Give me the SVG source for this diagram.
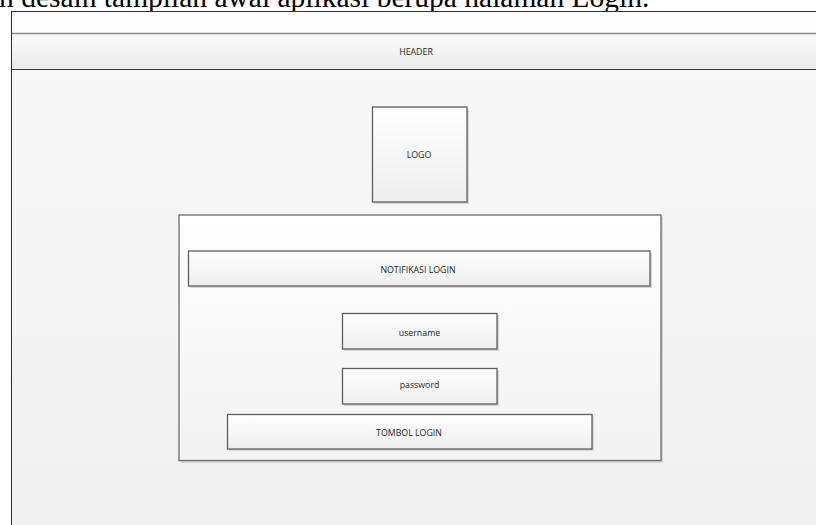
<svg xmlns="http://www.w3.org/2000/svg" width="816" height="525" viewBox="0 0 816 525">
<defs>
<linearGradient id="boxg" x1="0" y1="0" x2="0" y2="1">
<stop offset="0" stop-color="#ffffff"/>
<stop offset="1" stop-color="#eeeeee"/>
</linearGradient>
<linearGradient id="hdrg" x1="0" y1="0" x2="0" y2="1">
<stop offset="0" stop-color="#fbfbfb"/>
<stop offset="1" stop-color="#ebebeb"/>
</linearGradient>
<linearGradient id="bgg" x1="0" y1="0" x2="0" y2="1">
<stop offset="0" stop-color="#f9f9f9"/>
<stop offset="1" stop-color="#f0f0f0"/>
</linearGradient>
<linearGradient id="panelg" x1="0" y1="0" x2="0" y2="1">
<stop offset="0" stop-color="#ffffff"/>
<stop offset="1" stop-color="#f2f2f2"/>
</linearGradient>
</defs>
<style>
.box{fill:url(#boxg);stroke:#5e5e5e;stroke-width:1.3}
.shadow{fill:#d6d6d6}
.lbl{font-family:"Open Sans","DejaVu Sans",sans-serif;font-size:8.8px;fill:#262626;text-anchor:middle}
.cap{font-family:"Liberation Serif","Times New Roman",serif;font-size:29.5px;fill:#000}
</style>
<rect x="0" y="0" width="816" height="525" fill="#ffffff"/>
<text class="cap" x="-1" y="7">n desain tampilan awal aplikasi berupa halaman Login.</text>
<g id="frame">
<rect x="11" y="11" width="806" height="515" fill="url(#bgg)"/>
<rect x="11" y="11" width="806" height="22" fill="#fdfdfd"/>
<line x1="11" y1="11.5" x2="816" y2="11.5" stroke="#2e2e2e" stroke-width="1"/>
<line x1="11.5" y1="11" x2="11.5" y2="525" stroke="#2e2e2e" stroke-width="1"/>
</g>
<g id="header">
<rect x="12" y="33" width="805" height="36" fill="url(#hdrg)"/>
<line x1="12" y1="33.5" x2="816" y2="33.5" stroke="#8a8a8a" stroke-width="1.3"/>
<line x1="12" y1="69.5" x2="816" y2="69.5" stroke="#3a3a3a" stroke-width="1.2"/>
<text class="lbl" x="416" y="54.5">HEADER</text>
</g>
<g id="logo">
<rect class="shadow" x="374" y="109" width="95" height="95"/>
<rect class="box" x="372.5" y="107" width="94.5" height="95"/>
<text class="lbl" x="419" y="157.5">LOGO</text>
</g>
<g id="login-panel">
<rect class="shadow" x="181" y="217" width="482" height="246"/>
<rect x="179" y="215" width="482" height="245.5" fill="url(#panelg)" stroke="#6a6a6a" stroke-width="1.3"/>
</g>
<g id="notifikasi-login">
<rect class="shadow" x="190" y="253" width="462" height="35"/>
<rect class="box" x="188.5" y="251" width="461.5" height="35"/>
<text class="lbl" x="418" y="272.5">NOTIFIKASI LOGIN</text>
</g>
<g id="username">
<rect class="shadow" x="344" y="315" width="155" height="36"/>
<rect class="box" x="342.5" y="313.5" width="154.5" height="35.5"/>
<text class="lbl" x="419.5" y="335.5">username</text>
</g>
<g id="password">
<rect class="shadow" x="344" y="370" width="155" height="36"/>
<rect class="box" x="342.5" y="368.5" width="154.5" height="35.5"/>
<text class="lbl" x="419.5" y="388">password</text>
</g>
<g id="tombol-login">
<rect class="shadow" x="229" y="416" width="365" height="35"/>
<rect class="box" x="227.5" y="414.5" width="364.5" height="34.5"/>
<text class="lbl" x="409" y="435.5">TOMBOL LOGIN</text>
</g>
</svg>
